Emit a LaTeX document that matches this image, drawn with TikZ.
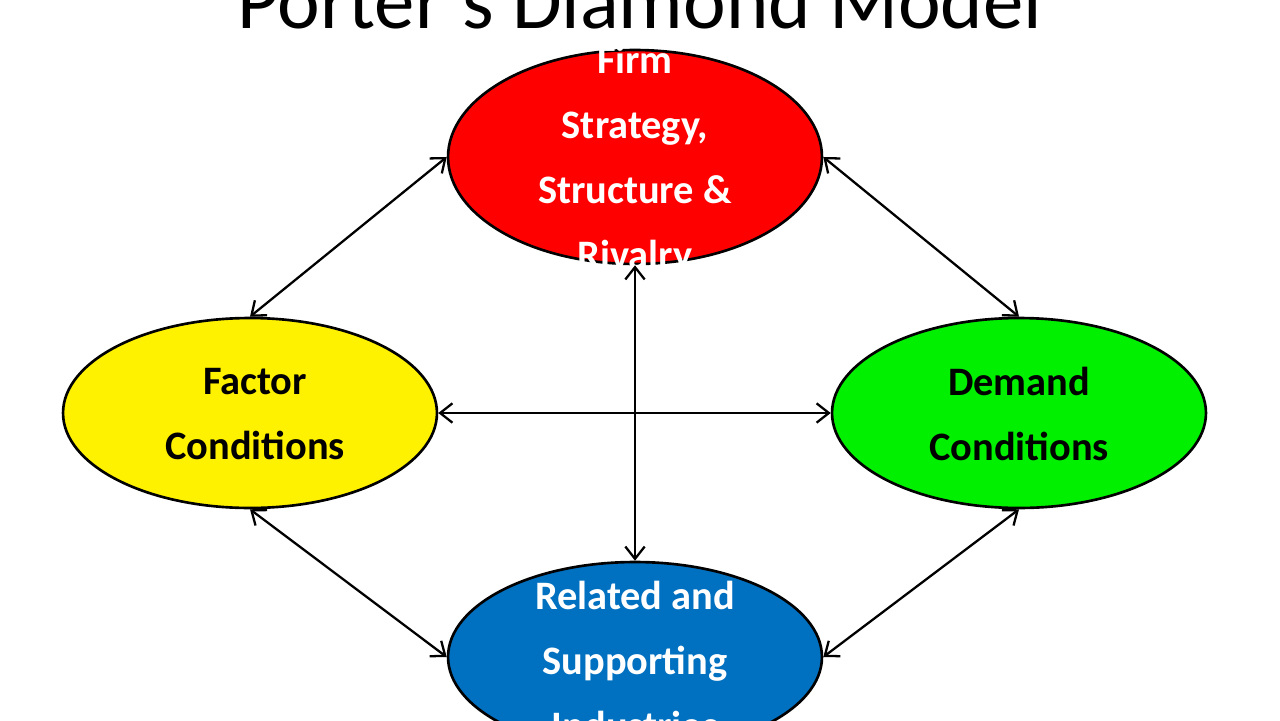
\documentclass[tikz,border=0pt]{standalone}
\usepackage{fontspec}
\setmainfont{Carlito}
\usetikzlibrary{arrows.meta,shapes.geometric}
\begin{document}
\begin{tikzpicture}[x=0.02cm,y=-0.02cm,
  blob/.style={ellipse,draw=black,line width=1.5pt,minimum width=7.48cm,inner sep=0pt},
  lbl/.style={text=white,font=\bfseries\fontsize{23}{37}\selectfont,align=center,inner sep=0pt},
  link/.style={line width=1.3pt,{Straight Barb[length=7pt,width=11pt]}-{Straight Barb[length=7pt,width=11pt]}}]
\useasboundingbox (0,0) rectangle (1280,720);
\clip (0,0) rectangle (1280,720);
\fill[white] (0,0) rectangle (1280,720);
\node[font=\fontsize{46}{50}\selectfont] (title) at (640,0) {Porter's Diamond Model};
\node[blob,fill=red,minimum height=4.28cm] (top) at (635,157) {};
\node[lbl] (toptext) at (635,160) {Firm\\Strategy,\\Structure \&\\Rivalry};
\node[blob,fill=yellow,minimum height=3.8cm] (left) at (250,413) {};
\node[lbl,text=black] (lefttext) at (255,414) {Factor\\Conditions};
\node[blob,fill={rgb,255:red,0;green,240;blue,0},minimum height=3.8cm] (right) at (1019,413) {};
\node[lbl,text=black] (righttext) at (1019,414) {Demand\\Conditions};
\node[blob,fill={rgb,255:red,0;green,112;blue,192},minimum height=3.8cm] (bottom) at (635,657) {};
\node[lbl] (bottomtext) at (635,660) {Related and\\Supporting\\Industries};
\draw[link] (top.west) -- (left.north);
\draw[link] (top.east) -- (right.north);
\draw[link] (left.south) -- (bottom.west);
\draw[link] (right.south) -- (bottom.east);
\draw[link] (left.east) -- (right.west);
\draw[link] (top.south) -- (bottom.north);
\end{tikzpicture}
\end{document}
